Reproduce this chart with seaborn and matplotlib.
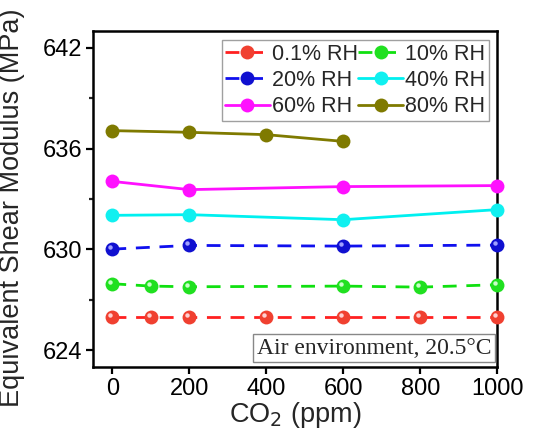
import matplotlib
matplotlib.use("Agg")
import matplotlib.pyplot as plt
import matplotlib.transforms as mtransforms
import seaborn as sns
import pandas as pd

# CO2 concentration (ppm) and equivalent shear modulus (MPa) per humidity level
co2_01 = [0, 100, 200, 400, 600, 800, 1000]
g_01 = [626.0, 626.0, 626.0, 626.0, 626.0, 626.0, 626.0]

co2_10 = [0, 100, 200, 600, 800, 1000]
g_10 = [627.96, 627.82, 627.78, 627.82, 627.76, 627.9]

co2_20 = [0, 200, 600, 1000]
g_20 = [630.02, 630.24, 630.2, 630.26]

co2_40 = [0, 200, 600, 1000]
g_40 = [632.03, 632.07, 631.77, 632.37]

co2_60 = [0, 200, 600, 1000]
g_60 = [634.05, 633.56, 633.74, 633.8]

co2_80 = [0, 200, 400, 600]
g_80 = [637.07, 636.97, 636.83, 636.43]

labels = ["0.1% RH", "10% RH", "20% RH", "40% RH", "60% RH", "80% RH"]
colors = ["#ff2020", "#10e010", "#1010ee", "#00f0f0", "#ff10ff", "#7f7a00"]
face = ["#f04030", "#20e020", "#1010d0", "#10f0f0", "#ff10ff", "#7f7a00"]
shine = ["#ffd0d0", "#c8ffc8", "#a0a0ff", None, None, None]
dashed = [True, True, True, False, False, False]

series = [(co2_01, g_01), (co2_10, g_10), (co2_20, g_20),
          (co2_40, g_40), (co2_60, g_60), (co2_80, g_80)]

sns.set_theme(style="ticks")
plt.rcParams["font.family"] = ["Liberation Sans", "DejaVu Sans"]

fig = plt.figure(figsize=(5.41, 4.36), dpi=100)
ax = fig.add_axes([0.172, 0.158, 0.747, 0.771])

handles = {}
for (x, y), lab, c, fc, d, sh in zip(series, labels, colors, face, dashed, shine):
    df = pd.DataFrame({"co2": x, "g": y})
    sns.lineplot(data=df, x="co2", y="g", ax=ax, color=c, linewidth=2.0,
                 marker="o", markersize=10, markerfacecolor=fc,
                 markeredgecolor=fc, markeredgewidth=0, label=lab,
                 clip_on=False, zorder=3)
    line = ax.get_lines()[-1]
    if d:
        line.set_dashes((5, 3.5))
    handles[lab] = line
    if sh is not None:
        # small glossy spot on each sphere marker
        tr = mtransforms.offset_copy(ax.transData, fig=fig, x=-1.5, y=1.5, units="points")
        ax.plot(x, y, linestyle="none", marker="o", markersize=3.2, color=sh,
                markeredgewidth=0, transform=tr, clip_on=False, zorder=4)

ax.set_xlim(-50, 1000)
ax.set_ylim(623, 643)
ax.set_xticks([0, 200, 400, 600, 800, 1000])
ax.set_yticks([624, 630, 636, 642])
ax.set_yticks([627, 633, 639], minor=True)

for s in ax.spines.values():
    s.set_linewidth(1.8)
    s.set_color("black")
ax.tick_params(axis="both", which="major", direction="out", length=5, width=1.6,
               labelsize=17, colors="black", pad=3)
ax.tick_params(axis="y", which="minor", direction="out", length=3, width=1.6)

ax.set_xlabel("CO$_2$ (ppm)", fontsize=19.5, labelpad=0)
ax.set_ylabel("Equivalent Shear Modulus (MPa)", fontsize=19.5)
ax.yaxis.set_label_coords(-0.168, 0.475)

order = ["0.1% RH", "20% RH", "60% RH", "10% RH", "40% RH", "80% RH"]
leg = ax.legend([handles[k] for k in order], order, ncol=2, loc="upper right",
                bbox_to_anchor=(0.99, 0.985), fontsize=15.5, frameon=True,
                fancybox=False, edgecolor="#888888", handlelength=2.1,
                handletextpad=0.1, columnspacing=0.0, labelspacing=0.25,
                borderpad=0.15, borderaxespad=0.2)
leg.get_frame().set_linewidth(1.0)
for t in leg.get_texts():
    t.set_horizontalalignment("right")

ax.text(0.985, 0.025, "Air environment, 20.5\u00b0C", transform=ax.transAxes,
        ha="right", va="bottom", fontsize=17, family="Liberation Serif",
        bbox=dict(boxstyle="square,pad=0.15", facecolor="white", edgecolor="#888888",
                  linewidth=1.0))

fig.savefig("out.png", dpi=100)
